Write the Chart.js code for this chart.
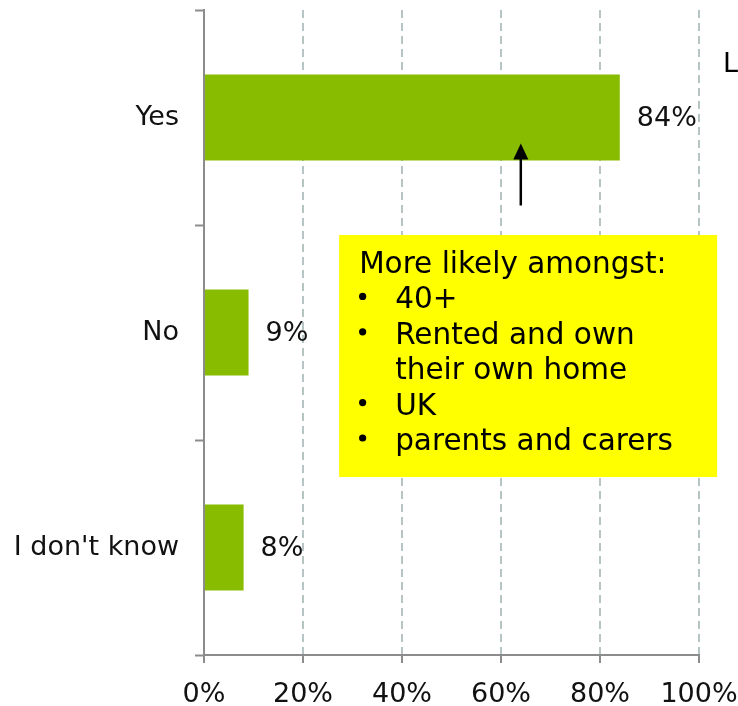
<!DOCTYPE html>
<html>
<head>
<meta charset="utf-8">
<script src="https://cdn.jsdelivr.net/npm/chart.js@4/dist/chart.umd.min.js"></script>
<style>
  html, body { margin: 0; padding: 0; background: #fff; }
  #wrap { width: 738px; height: 706px; position: relative; }
</style>
</head>
<body>
<div id="wrap"><canvas id="c" width="738" height="706"></canvas></div>
<script>
// Survey answers and their shares (%)
const categories = ["Yes", "No", "I don't know"];
const shares = [84, 9, 8];
const xTickValues = [0, 20, 40, 60, 80, 100];

// Callout content
const calloutTitle = "More likely amongst:";
const calloutLines = [
  { bullet: true, text: "40+" },
  { bullet: true, text: "Rented and own" },
  { bullet: false, text: "their own home" },
  { bullet: true, text: "UK" },
  { bullet: true, text: "parents and carers" }
];

const FONT = "'DejaVu Sans', Verdana, sans-serif";
const AXIS_GREY = '#8c8c8c';
const GRID_GREY = '#b7c4c4';
const BAR_GREEN = '#88bc00';
const LABEL_SIZE = 27;
const NOTE_SIZE = 29.5;

// Value labels just past the end of each bar
const valueLabels = {
  id: 'valueLabels',
  afterDatasetsDraw(chart) {
    const { ctx } = chart;
    const meta = chart.getDatasetMeta(0);
    ctx.save();
    ctx.font = `${LABEL_SIZE}px ${FONT}`;
    ctx.fillStyle = '#111';
    ctx.textAlign = 'left';
    ctx.textBaseline = 'middle';
    meta.data.forEach((bar, i) => {
      ctx.fillText(shares[i] + '%', bar.x + 17, bar.y + 1);
    });
    ctx.restore();
  }
};

// Yellow callout with an arrow pointing up into the "Yes" bar
const callout = {
  id: 'callout',
  afterDraw(chart) {
    const { ctx, scales: { x } } = chart;
    const yesBar = chart.getDatasetMeta(0).data[0];
    ctx.save();

    // arrow
    const ax = x.getPixelForValue(64);
    const tipY = yesBar.y + yesBar.height / 2 - 17;
    const tailY = tipY + 62;
    ctx.strokeStyle = '#000';
    ctx.fillStyle = '#000';
    ctx.lineWidth = 2.5;
    ctx.beginPath();
    ctx.moveTo(ax, tailY);
    ctx.lineTo(ax, tipY + 12);
    ctx.stroke();
    ctx.beginPath();
    ctx.moveTo(ax, tipY);
    ctx.lineTo(ax - 7.5, tipY + 16);
    ctx.lineTo(ax + 7.5, tipY + 16);
    ctx.closePath();
    ctx.fill();

    // box
    const bx = x.getPixelForValue(27.3);
    const bw = 378;
    const by = 235;
    const bh = 242;
    ctx.fillStyle = '#ffff00';
    ctx.fillRect(bx, by, bw, bh);

    // text
    ctx.fillStyle = '#000';
    ctx.font = `${NOTE_SIZE}px ${FONT}`;
    ctx.textAlign = 'left';
    ctx.textBaseline = 'alphabetic';
    const lineH = 35.4;
    let ty = by + 38;
    ctx.fillText(calloutTitle, bx + 20, ty);
    calloutLines.forEach((ln) => {
      ty += lineH;
      if (ln.bullet) {
        ctx.beginPath();
        ctx.arc(bx + 23.5, ty - 12, 3.6, 0, Math.PI * 2);
        ctx.fill();
      }
      ctx.fillText(ln.text, bx + 56, ty);
    });

    // truncated side text at the right edge
    ctx.font = `${LABEL_SIZE}px ${FONT}`;
    ctx.fillText('L', 723, 72);
    ctx.restore();
  }
};

new Chart(document.getElementById('c'), {
  type: 'bar',
  data: {
    labels: categories,
    datasets: [{
      data: shares,
      backgroundColor: BAR_GREEN,
      borderWidth: 0,
      barPercentage: 0.4,
      categoryPercentage: 1.0
    }]
  },
  options: {
    indexAxis: 'y',
    responsive: false,
    animation: false,
    devicePixelRatio: 1,
    layout: { padding: { top: 10, left: 0, right: 39, bottom: 0 } },
    plugins: {
      legend: { display: false },
      tooltip: { enabled: false }
    },
    scales: {
      x: {
        type: 'linear',
        min: 0,
        max: 100,
        afterBuildTicks(scale) {
          scale.ticks = xTickValues.map(v => ({ value: v }));
        },
        afterFit(scale) {
          scale.paddingLeft = 0;
          scale.paddingRight = 0;
          scale.height = 51;
        },
        ticks: {
          callback: (v) => v + '%',
          font: { family: FONT, size: LABEL_SIZE },
          color: '#111',
          padding: 16,
          maxRotation: 0
        },
        grid: {
          color: (ctx) => (ctx.tick && ctx.tick.value === 0) ? 'rgba(0,0,0,0)' : GRID_GREY,
          lineWidth: 2,
          tickColor: AXIS_GREY,
          tickLength: 8,
          tickWidth: 2,
          tickBorderDash: []
        },
        border: { display: true, color: AXIS_GREY, width: 2, dash: [8, 5] }
      },
      y: {
        type: 'category',
        offset: true,
        afterFit(scale) {
          scale.paddingTop = 0;
          scale.paddingBottom = 0;
          scale.width = 204;
        },
        ticks: {
          font: { family: FONT, size: LABEL_SIZE },
          color: '#111',
          padding: 16
        },
        grid: {
          offset: true,
          drawOnChartArea: false,
          tickColor: AXIS_GREY,
          tickLength: 9,
          tickWidth: 2
        },
        border: { display: true, color: AXIS_GREY, width: 2 }
      }
    }
  },
  plugins: [valueLabels, callout]
});
</script>
</body>
</html>
